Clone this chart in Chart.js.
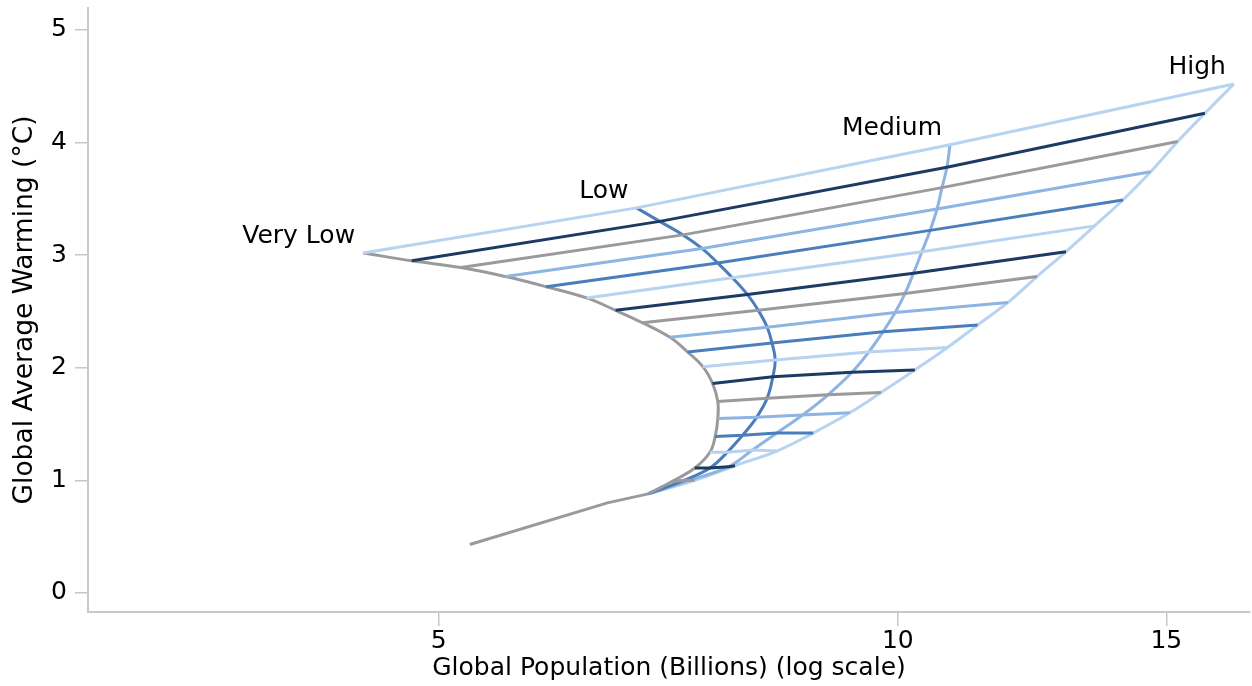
<!DOCTYPE html>
<html>
<head>
<meta charset="utf-8">
<title>Global population vs warming</title>
<script src="https://cdn.jsdelivr.net/npm/chart.js@4.4.0/dist/chart.umd.min.js"></script>
<style>
  html, body { margin: 0; padding: 0; background: #fff; }
  canvas { display: block; }
</style>
</head>
<body>
<canvas id="warmingChart" width="1252" height="686"></canvas>
<script>
// scenario years, 2010 is where the projections split
const years = [2010, 2015, 2020, 2025, 2030, 2035, 2040, 2045, 2050, 2055,
               2060, 2065, 2070, 2075, 2080, 2085, 2090, 2095, 2100];

// population in billions, warming in degrees C
const veryLowPop  = [6.86, 7.11, 7.36, 7.53, 7.59, 7.62, 7.62, 7.56, 7.45, 7.28, 7.09, 6.80, 6.53, 6.25, 5.88, 5.53, 5.17, 4.80, 4.46];
const veryLowTemp = [0.88, 0.99, 1.11, 1.25, 1.39, 1.55, 1.70, 1.86, 2.01, 2.14, 2.27, 2.40, 2.51, 2.62, 2.72, 2.81, 2.89, 2.95, 3.02];

const lowPop  = [6.86, 7.24, 7.53, 7.73, 7.91, 8.08, 8.21, 8.28, 8.31, 8.27, 8.21, 8.10, 7.97, 7.79, 7.62, 7.44, 7.23, 6.98, 6.74];
const lowTemp = [0.88, 1.00, 1.11, 1.25, 1.40, 1.56, 1.73, 1.92, 2.07, 2.22, 2.36, 2.51, 2.65, 2.80, 2.93, 3.06, 3.18, 3.30, 3.42];

const mediumPop  = [6.86, 7.30, 7.74, 8.03, 8.33, 8.66, 9.00, 9.33, 9.57, 9.78, 9.96, 10.11, 10.24, 10.37, 10.50, 10.61, 10.69, 10.77, 10.82];
const mediumTemp = [0.88, 1.00, 1.12, 1.27, 1.42, 1.58, 1.76, 1.96, 2.14, 2.32, 2.49, 2.66, 2.84, 3.03, 3.22, 3.41, 3.60, 3.78, 3.98];

const highPop  = [6.86, 7.36, 7.82, 8.33, 8.80, 9.30, 9.75, 10.26, 10.78, 11.28, 11.81, 12.34, 12.89, 13.46, 14.05, 14.65, 15.26, 15.90, 16.61];
const highTemp = [0.88, 1.00, 1.13, 1.26, 1.42, 1.60, 1.78, 1.98, 2.18, 2.38, 2.58, 2.81, 3.03, 3.26, 3.49, 3.74, 4.01, 4.26, 4.52];

// observed part before the split
const histYears = [1990, 2005, 2010];
const histPop   = [5.24, 6.45, 6.86];
const histTemp  = [0.43, 0.80, 0.88];

const xTicks = [5, 10, 15];
const yTicks = [0, 1, 2, 3, 4, 5];

const LIGHT = '#b6d3f1';
const NAVY  = '#1c3b63';
const GRAY  = '#9a9a9a';
const MID   = '#8db4e2';
const STEEL = '#4a7ebb';
const AXIS  = '#c8c8c8';
const FONT  = '"DejaVu Sans", Verdana, sans-serif';

const scenarios = [
  { name: 'Very Low', pop: veryLowPop, temp: veryLowTemp, color: GRAY },
  { name: 'Low',      pop: lowPop,     temp: lowTemp,     color: STEEL },
  { name: 'Medium',   pop: mediumPop,  temp: mediumTemp,  color: MID },
  { name: 'High',     pop: highPop,    temp: highTemp,    color: LIGHT }
];

function toPoints(xs, ys) {
  return xs.map(function (x, i) { return { x: x, y: ys[i] }; });
}

// colours of the year lines, counted back from 2100
const stepColors = [LIGHT, NAVY, GRAY, MID, STEEL];

var datasets = [];
for (let i = 1; i < years.length; i++) {
  datasets.push({
    label: String(years[i]),
    data: scenarios.map(s => ({ x: s.pop[i], y: s.temp[i] })),
    borderColor: stepColors[(years.length - 1 - i) % stepColors.length]
  });
}
scenarios.forEach(function (s) {
  datasets.push({ label: s.name, data: toPoints(s.pop, s.temp), borderColor: s.color, tension: 0.4 });
});
datasets.push({ label: 'Observed', data: toPoints(histPop, histTemp), borderColor: GRAY });

// scenario names next to the 2100 end of each curve
const scenarioLabels = {
  id: 'scenarioLabels',
  afterDatasetsDraw(chart) {
    const ctx = chart.ctx;
    const xs = chart.scales.x, ys = chart.scales.y;
    ctx.save();
    ctx.font = '25px ' + FONT;
    ctx.fillStyle = '#000';
    ctx.textAlign = 'right';
    ctx.textBaseline = 'alphabetic';
    scenarios.forEach(function (s) {
      const n = s.pop.length - 1;
      ctx.fillText(s.name, xs.getPixelForValue(s.pop[n]) - 8, ys.getPixelForValue(s.temp[n]) - 10);
    });
    ctx.restore();
  }
};

// keep the tick labels from pushing the plot area in
function noLabelPadding(scale) {
  scale.paddingTop = 0;
  scale.paddingBottom = 0;
  scale.paddingLeft = 0;
  scale.paddingRight = 0;
}

var ctx = document.getElementById('warmingChart').getContext('2d');
var warmingChart = new Chart(ctx, {
  type: 'scatter',
  data: { datasets: datasets },
  plugins: [scenarioLabels],
  options: {
    responsive: false,
    animation: false,
    layout: { padding: { top: 8, right: 2, bottom: 0, left: 0 } },
    elements: {
      point: { radius: 0, hoverRadius: 0 },
      line: { borderWidth: 3, tension: 0, fill: false }
    },
    datasets: { scatter: { showLine: true } },
    plugins: {
      legend: { display: false },
      tooltip: { enabled: false }
    },
    scales: {
      x: {
        type: 'logarithmic',
        min: 2.944,
        max: 17.02,
        afterBuildTicks: function (scale) { scale.ticks = xTicks.map(v => ({ value: v, major: false })); },
        afterFit: function (scale) { scale.height = 74; noLabelPadding(scale); },
        border: { color: AXIS, width: 2 },
        grid: { drawOnChartArea: false, color: AXIS, lineWidth: 1.5, tickLength: 14 },
        ticks: {
          color: '#000',
          font: { family: FONT, size: 25 },
          padding: 0,
          maxRotation: 0,
          autoSkip: false,
          callback: function (v) { return String(v); }
        },
        title: {
          display: true,
          text: 'Global Population (Billions) (log scale)',
          color: '#000',
          font: { family: FONT, size: 25 },
          padding: { top: 0, bottom: 3 }
        }
      },
      y: {
        min: -0.169,
        max: 5.195,
        afterBuildTicks: function (scale) { scale.ticks = yTicks.map(v => ({ value: v })); },
        afterFit: function (scale) { scale.width = 88; noLabelPadding(scale); },
        border: { color: AXIS, width: 2 },
        grid: { drawOnChartArea: false, color: AXIS, lineWidth: 1.5, tickLength: 13 },
        ticks: {
          color: '#000',
          font: { family: FONT, size: 25 },
          padding: 8,
          callback: function (v) { return String(v); }
        },
        title: {
          display: true,
          text: 'Global Average Warming (°C)',
          color: '#000',
          font: { family: FONT, size: 26.5 },
          padding: { top: 9, bottom: 0 }
        }
      }
    }
  }
});
</script>
</body>
</html>
